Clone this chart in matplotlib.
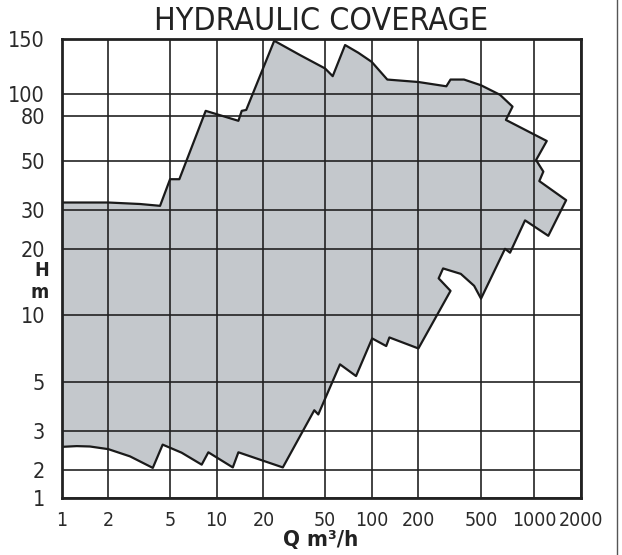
import numpy as np
import matplotlib
matplotlib.use('Agg')
import matplotlib.pyplot as plt
from matplotlib.scale import FuncScale
from matplotlib.ticker import FixedLocator, FixedFormatter
from matplotlib.lines import Line2D

plt.rcParams['font.family'] = ['DejaVu Sans']
plt.rcParams['font.stretch'] = 'condensed'

# axis ticks (the printed chart squeezes the ends, so positions are given in decades)
q_ticks = [1, 2, 5, 10, 20, 50, 100, 200, 500, 1000, 2000]
q_pos = [0, 0.301, 0.699, 1, 1.301, 1.699, 2, 2.301, 2.705, 3.049, 3.348]
h_ticks = [1, 2, 3, 5, 10, 20, 30, 50, 80, 100, 150]
h_pos = [0.172, 0.301, 0.477, 0.699, 1, 1.301, 1.477, 1.699, 1.903, 2, 2.249]

# coverage outline, top edge left -> right (and down the right side)
top_q = [1, 2, 3.2, 4.31, 5.0, 5.74, 8.49, 13.8, 14.5, 15.5, 23.5, 34.5, 50, 56,
         67.3, 82, 100, 126, 200, 301, 320, 390, 500, 640, 753, 691, 1204, 1026,
         1144, 1077, 1609]
top_h = [32.4, 32.4, 31.9, 31.3, 41.3, 41.3, 84.2, 75.9, 84.2, 85, 148.4, 133.5, 121, 114.3,
         143.8, 135.8, 127, 111.5, 109.5, 106.1, 111.5, 111.5, 106.9, 99.5, 88, 76.6, 61.5, 50.4,
         44.7, 40.5, 33.2]

# right side with the pocket around 300-500 m3/h
right_q = [1232, 886, 729, 683, 500, 452, 372, 287, 269, 320]
right_h = [22.9, 26.9, 19.2, 20.0, 11.9, 13.6, 15.4, 16.3, 14.7, 12.9]

# bottom edge left -> right
bottom_q = [1, 1.25, 1.52, 2.0, 2.76, 3.87, 4.48, 5.94, 8.0, 8.83, 12.7, 13.8, 26.7,
            42.6, 45.2, 62.4, 79.2, 100.6, 124, 130, 200]
bottom_h = [2.54, 2.56, 2.55, 2.48, 2.30, 2.04, 2.60, 2.39, 2.11, 2.40, 2.05, 2.40, 2.05,
            3.72, 3.56, 6.0, 5.31, 7.86, 7.26, 7.94, 7.08]


def make_scale(ticks, pos):
    lt = np.log10(ticks)

    def fwd(v):
        v = np.asarray(v, dtype=float)
        with np.errstate(divide='ignore', invalid='ignore'):
            lv = np.log10(np.clip(v, 1e-6, None))
        return np.interp(lv, lt, pos)

    def inv(p):
        p = np.asarray(p, dtype=float)
        return 10 ** np.interp(p, pos, lt)

    return fwd, inv


fig = plt.figure(figsize=(6.22, 5.55), dpi=100)
ax = fig.add_axes([61.7 / 622, (555 - 498.3) / 555, 519 / 622, 459 / 555])

ax.set_xscale(FuncScale(ax.xaxis, make_scale(q_ticks, q_pos)))
ax.set_yscale(FuncScale(ax.yaxis, make_scale(h_ticks, h_pos)))

poly_q = top_q + right_q + bottom_q[::-1]
poly_h = top_h + right_h + bottom_h[::-1]
ax.fill(poly_q, poly_h, facecolor='#c4c8cc', edgecolor='none', zorder=1)
ax.plot(poly_q + [poly_q[0]], poly_h + [poly_h[0]], color='#1a1a1a', lw=1.6, zorder=3)

ax.set_xlim(1, 2000)
ax.set_ylim(1, 150)

ax.xaxis.set_major_locator(FixedLocator(q_ticks))
ax.xaxis.set_major_formatter(FixedFormatter([str(t) for t in q_ticks]))
ax.yaxis.set_major_locator(FixedLocator(h_ticks))
ax.yaxis.set_major_formatter(FixedFormatter([str(t) for t in h_ticks]))
ax.xaxis.set_minor_locator(FixedLocator([]))
ax.yaxis.set_minor_locator(FixedLocator([]))

ax.set_axisbelow(False)
ax.grid(True, color='#222222', lw=1.2)
ax.tick_params(length=0, labelsize=15.5, labelcolor='#2a2a2a')
ax.tick_params(axis='x', labelsize=14, pad=9)
ax.tick_params(axis='y', pad=12)
for s in ax.spines.values():
    s.set_linewidth(2)
    s.set_color('#222222')
    s.set_zorder(4)

ax.set_title('HYDRAULIC COVERAGE', fontsize=23, pad=7, color='#222222')

fig.text(49 / 622, 1 - 271 / 555, 'H', ha='right', va='center', fontsize=14,
         fontweight='bold', color='#222222')
fig.text(49 / 622, 1 - 292 / 555, 'm', ha='right', va='center', fontsize=14,
         fontweight='bold', color='#222222')
fig.text(321 / 622, 1 - 540 / 555, 'Q m³/h', ha='center', va='center', fontsize=16,
         fontweight='bold', color='#222222')

# page border on the right of the scan
fig.add_artist(Line2D([617 / 622, 617 / 622], [0, 1], color='#555555', lw=1))

fig.savefig('out.png', dpi=100)
